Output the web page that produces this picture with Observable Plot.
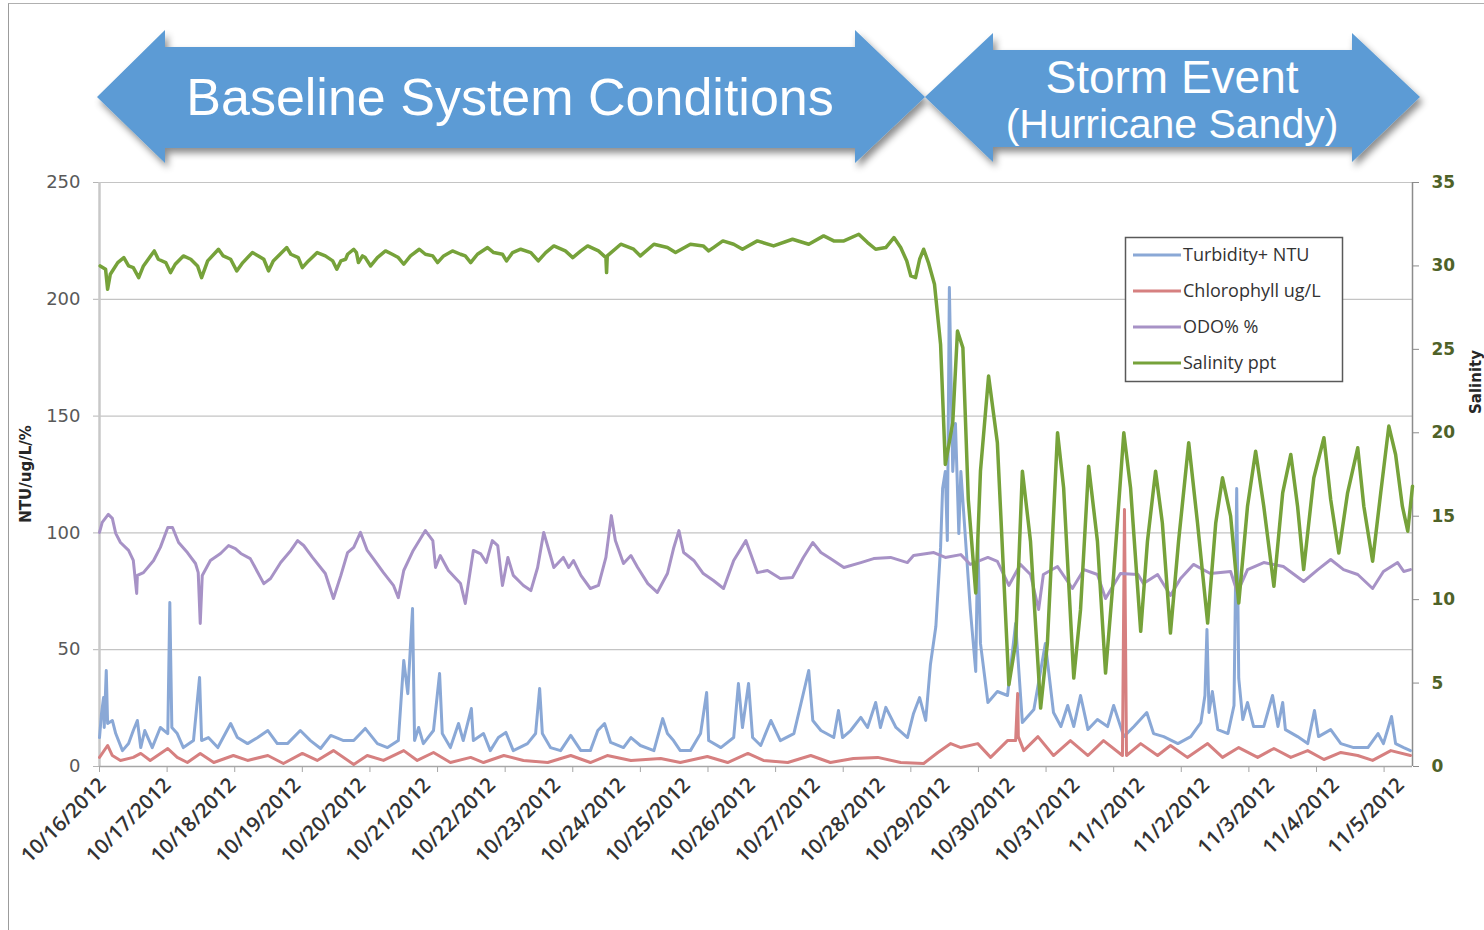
<!DOCTYPE html>
<html><head><meta charset="utf-8">
<script src="https://cdn.jsdelivr.net/npm/d3@7"></script>
<script src="https://cdn.jsdelivr.net/npm/@observablehq/plot@0.6"></script>
<style>
html,body{margin:0;padding:0;background:#fff;}
#wrap{position:relative;width:1484px;height:930px;overflow:hidden;background:#fff;}
#frame{position:absolute;left:8px;top:3px;width:1480px;height:930px;border-left:1.5px solid #9c9c9c;border-top:1.5px solid #b0b0b0;box-sizing:border-box;}
#chart{position:absolute;left:0;top:0;}
#overlay{position:absolute;left:0;top:0;}
</style></head><body>
<div id="wrap"><div id="frame"></div><div id="chart"></div>
<svg id="overlay" width="1484" height="930"></svg></div>
<script>
// x values are reading numbers (15-minute readings) from 10/16/2012 00:00
const dateLabels = ["10/16/2012","10/17/2012","10/18/2012","10/19/2012","10/20/2012","10/21/2012","10/22/2012","10/23/2012","10/24/2012","10/25/2012","10/26/2012","10/27/2012","10/28/2012","10/29/2012","10/30/2012","10/31/2012","11/1/2012","11/2/2012","11/3/2012","11/4/2012","11/5/2012"];
const readingsPerDay = 96;
const tickEvery = 100;
const lastReading = 1942;
const leftTicks = [0,50,100,150,200,250];
const rightTicks = [0,5,10,15,20,25,30,35];
const seriesNames = ["Turbidity+ NTU","Chlorophyll ug/L","ODO% %","Salinity ppt"];
const seriesColors = ["#8aa8d6","#d68080","#a792c6","#76a23a"];
const storyLabels = ["Baseline System Conditions","Storm Event","(Hurricane Sandy)"];

const turbidity = [[0,12.4],[3,22.7],[6,29.5],[7,16.7],[10,41.1],[12,18.4],[19,19.7],[24,14.1],[34,6.8],[43,9.8],[50,15.4],[56,19.7],[61,8.1],[67,15.4],[78,8.1],[90,16.7],[101,14.1],[104,70.2],[107,16.7],[115,14.1],[124,8.1],[139,11.1],[148,38.1],[151,11.1],[161,12.4],[175,8.1],[194,18.4],[204,12.4],[219,9.8],[234,12.4],[249,15.4],[263,9.8],[278,9.8],[297,15.4],[312,11.1],[327,7.7],[342,13.3],[361,11.1],[376,11.1],[393,16.3],[411,9.8],[426,8.1],[442,11.1],[450,45.4],[456,31.2],[463,67.6],[466,11.1],[472,16.7],[479,9.8],[494,15.4],[503,39.8],[507,14.1],[519,8.1],[531,18.4],[538,11.1],[550,24.8],[553,11.1],[568,14.1],[578,6.8],[590,12.4],[601,14.6],[612,6.8],[633,9.8],[645,14.1],[651,33.4],[655,14.1],[667,8.1],[682,6.8],[697,13.3],[712,6.8],[726,6.8],[737,15.4],[747,18.4],[756,10.3],[775,8.1],[786,12.4],[800,9.0],[820,6.8],[833,20.5],[840,14.1],[849,11.1],[859,6.8],[874,6.8],[889,14.1],[898,31.7],[901,11.1],[919,8.1],[938,12.4],[945,35.5],[951,16.7],[960,35.5],[966,12.4],[978,9.0],[993,19.7],[1007,11.1],[1027,14.1],[1049,41.1],[1055,19.7],[1067,15.4],[1086,12.4],[1093,24.0],[1099,12.4],[1111,15.4],[1126,21.0],[1136,16.7],[1148,27.4],[1155,16.7],[1163,25.3],[1178,16.7],[1195,12.4],[1204,22.7],[1213,29.5],[1222,19.7],[1229,43.7],[1237,59.9],[1244,93.8],[1247,119.0],[1251,126.3],[1254,96.7],[1257,205.0],[1262,126.3],[1266,146.8],[1271,99.7],[1274,126.3],[1281,96.7],[1288,67.2],[1296,40.7],[1299,96.7],[1303,52.7],[1314,27.4],[1328,32.1],[1343,30.4],[1355,61.2],[1365,18.8],[1382,24.4],[1399,52.7],[1411,23.1],[1422,17.1],[1432,26.1],[1441,17.1],[1451,30.4],[1462,15.8],[1476,20.1],[1491,17.1],[1500,26.1],[1515,12.8],[1530,17.1],[1549,23.1],[1559,14.1],[1574,12.8],[1595,9.8],[1614,12.8],[1629,18.8],[1635,30.4],[1638,58.6],[1641,23.1],[1646,32.1],[1654,15.8],[1669,14.1],[1678,26.1],[1682,119.0],[1685,37.7],[1691,20.1],[1698,27.4],[1707,17.1],[1722,17.1],[1735,30.4],[1743,17.1],[1750,27.4],[1754,15.8],[1772,12.8],[1787,9.8],[1797,24.0],[1803,12.8],[1821,15.8],[1836,9.8],[1855,8.1],[1876,8.1],[1891,14.1],[1899,9.8],[1911,21.4],[1917,9.8],[1929,8.1],[1939,6.8]];

const chlorophyll = [[0,3.9],[12,9.0],[19,4.7],[31,2.6],[50,3.9],[61,5.6],[75,2.6],[101,7.7],[115,3.9],[130,1.7],[149,5.6],[169,1.7],[198,4.7],[219,2.6],[249,4.7],[272,1.3],[300,5.6],[322,2.6],[346,6.8],[376,0.9],[396,4.7],[420,2.6],[450,6.8],[470,2.6],[494,6.0],[519,1.7],[549,3.9],[568,1.7],[598,4.7],[627,2.6],[663,1.7],[697,4.7],[726,1.7],[751,4.7],[786,2.6],[830,3.4],[859,1.7],[899,4.3],[929,1.7],[959,5.6],[982,2.6],[1018,1.7],[1052,4.7],[1081,1.7],[1115,3.4],[1151,3.9],[1185,1.7],[1219,1.3],[1240,6.0],[1259,9.8],[1274,8.1],[1299,9.8],[1318,3.9],[1343,11.1],[1355,11.1],[1358,31.2],[1359,12.8],[1367,6.8],[1388,12.8],[1411,4.7],[1436,11.1],[1462,4.7],[1485,11.1],[1513,4.7],[1516,110.0],[1519,4.7],[1540,9.8],[1565,4.7],[1584,9.0],[1609,3.9],[1639,9.8],[1661,3.9],[1685,8.1],[1713,3.9],[1737,7.7],[1762,3.9],[1787,6.8],[1811,3.0],[1836,6.0],[1861,4.7],[1883,2.6],[1910,6.8],[1939,4.7]];

const odo = [[0,100.2],[4,104.5],[13,107.9],[19,106.2],[24,99.8],[31,95.9],[43,92.5],[50,88.2],[55,74.1],[56,81.8],[65,83.0],[80,88.2],[90,93.8],[101,102.3],[108,102.3],[117,95.9],[130,91.6],[142,86.9],[146,83.0],[149,61.2],[152,81.8],[164,88.2],[179,91.2],[191,94.6],[201,93.3],[209,91.2],[223,89.0],[243,78.3],[253,80.5],[268,87.3],[283,92.5],[293,96.7],[302,94.6],[315,89.5],[334,82.6],[346,71.9],[357,81.8],[367,91.6],[376,93.8],[386,100.2],[396,92.5],[405,89.0],[420,83.0],[435,77.4],[442,72.3],[450,83.9],[464,92.5],[482,101.0],[493,96.7],[497,85.2],[504,90.3],[516,83.9],[534,78.3],[541,69.8],[553,92.5],[564,91.0],[572,87.3],[581,96.7],[589,94.6],[596,77.5],[604,89.5],[612,81.8],[627,77.5],[638,75.3],[648,85.2],[657,100.2],[672,85.2],[686,89.5],[694,85.2],[701,88.2],[712,81.8],[726,76.2],[738,77.5],[749,89.5],[757,107.4],[763,96.7],[775,86.9],[786,90.3],[796,85.2],[811,78.3],[825,74.5],[840,82.6],[849,93.3],[857,101.0],[864,91.6],[879,88.2],[893,82.6],[908,79.6],[923,76.2],[938,88.2],[956,96.7],[963,91.2],[973,83.0],[988,83.9],[1007,80.5],[1025,80.9],[1041,89.5],[1055,95.9],[1067,91.6],[1081,89.0],[1101,85.2],[1126,87.3],[1145,89.0],[1170,89.5],[1195,87.3],[1204,90.3],[1234,91.6],[1251,89.5],[1274,90.7],[1288,86.5],[1314,89.5],[1328,87.8],[1345,77.5],[1362,86.5],[1377,82.2],[1389,67.2],[1396,82.2],[1417,85.6],[1439,76.2],[1456,84.3],[1476,82.2],[1488,71.9],[1510,82.6],[1536,82.2],[1544,78.3],[1565,82.2],[1584,73.2],[1599,80.5],[1618,86.5],[1643,82.6],[1673,83.5],[1683,74.5],[1698,84.3],[1722,87.3],[1751,85.6],[1781,79.2],[1802,84.3],[1821,88.6],[1840,84.3],[1861,82.2],[1883,76.2],[1899,83.5],[1920,87.3],[1929,83.5],[1939,84.3]];

const salinity = [[1,30.0],[9,29.8],[12,28.6],[16,29.5],[27,30.2],[36,30.5],[43,30.0],[50,29.9],[58,29.3],[65,30.0],[81,30.9],[87,30.4],[98,30.2],[105,29.6],[112,30.1],[124,30.6],[135,30.4],[145,30.0],[151,29.3],[160,30.3],[176,31.0],[183,30.6],[194,30.4],[203,29.7],[212,30.2],[226,30.8],[235,30.6],[243,30.4],[250,29.7],[257,30.3],[277,31.1],[283,30.7],[294,30.5],[300,29.9],[309,30.3],[322,30.8],[334,30.6],[345,30.3],[351,29.8],[357,30.3],[364,30.4],[367,30.7],[376,31.0],[380,30.8],[383,30.2],[389,30.6],[393,30.5],[401,30.0],[411,30.5],[423,30.9],[433,30.7],[442,30.5],[450,30.1],[460,30.6],[473,31.0],[482,30.7],[493,30.6],[500,30.2],[509,30.6],[522,30.9],[534,30.7],[541,30.6],[549,30.2],[559,30.7],[574,31.1],[583,30.8],[596,30.7],[602,30.3],[611,30.8],[623,31.0],[638,30.8],[649,30.3],[660,30.8],[672,31.2],[689,30.9],[700,30.5],[712,30.9],[722,31.2],[738,30.9],[749,30.5],[750,29.6],[751,30.6],[771,31.3],[790,31.0],[800,30.6],[820,31.3],[840,31.1],[852,30.8],[874,31.3],[893,31.2],[901,30.9],[908,31.1],[922,31.5],[938,31.3],[951,31.0],[973,31.5],[997,31.2],[1025,31.6],[1049,31.3],[1071,31.8],[1086,31.5],[1101,31.5],[1123,31.9],[1136,31.4],[1148,31.0],[1163,31.1],[1175,31.7],[1185,31.1],[1194,30.3],[1200,29.4],[1207,29.3],[1213,30.4],[1219,31.0],[1226,30.2],[1235,28.9],[1244,25.3],[1251,18.1],[1262,20.6],[1269,26.1],[1277,25.1],[1285,16.0],[1296,10.4],[1303,17.7],[1315,23.4],[1328,19.4],[1345,4.9],[1355,7.4],[1365,17.7],[1377,13.5],[1392,3.5],[1402,7.4],[1417,20.0],[1426,16.7],[1441,5.3],[1451,9.4],[1463,18.0],[1476,13.5],[1488,5.6],[1500,11.5],[1515,20.0],[1525,16.7],[1540,8.1],[1550,13.5],[1562,17.7],[1572,14.6],[1584,8.0],[1596,13.5],[1611,19.4],[1624,14.6],[1639,8.6],[1651,14.6],[1661,17.3],[1673,15.0],[1685,9.8],[1698,15.6],[1710,18.9],[1722,15.6],[1737,10.8],[1750,16.4],[1762,18.7],[1772,15.6],[1781,11.8],[1796,17.3],[1811,19.7],[1821,16.0],[1833,12.8],[1846,16.4],[1861,19.1],[1870,15.6],[1883,12.3],[1895,16.4],[1907,20.4],[1917,18.7],[1927,15.6],[1935,14.1],[1942,16.8]];

// secondary (salinity) axis 0–35 shares the primary 0–250 range
const toLeft = s => s * 250 / 35;
const toRight = v => v * 35 / 250;

const labelData = dateLabels.map((t, i) => ({r: i * readingsPerDay, t}));
const tickPositions = d3.range(0, lastReading, tickEvery);

const plot = Plot.plot({
  width: 1484, height: 930,
  marginLeft: 99, marginRight: 72, marginTop: 182, marginBottom: 164,
  x: {domain: [0, lastReading], axis: null},
  y: {domain: [0, 250], axis: null},
  style: {background: "transparent", fontFamily: "DejaVu Sans", overflow: "visible"},
  marks: [
    Plot.ruleY(leftTicks.slice(1), {stroke: "#c4c4c4", strokeWidth: 1.2}),
    Plot.axisY(leftTicks, {anchor: "left", tickSize: 6, tickPadding: 13, fontSize: 18, fill: "#595959", stroke: "#b5b5b5", label: null}),
    Plot.axisY(rightTicks.map(toLeft), {anchor: "right", tickFormat: d => String(Math.round(toRight(d))), tickSize: 6, tickPadding: 13, fontSize: 17, fontWeight: "bold", fill: "#4f6228", stroke: "#8c8c8c", label: null}),
    Plot.axisX(tickPositions, {anchor: "bottom", tickSize: 6, tickFormat: () => "", stroke: "#a6a6a6", label: null}),
    Plot.text(labelData, {x: "r", y: () => 0, text: "t", rotate: -45, textAnchor: "end", dx: 3, dy: 15, fontSize: 20.5, fontFamily: "Open Sans", fontWeight: 600, fill: "#333333"}),
    Plot.ruleX([0], {stroke: "#c8c8c8", strokeWidth: 2.5}),
    Plot.ruleX([lastReading], {stroke: "#8c8c8c", strokeWidth: 1.5}),
    Plot.ruleY([0], {stroke: "#a6a6a6", strokeWidth: 1.5}),
    Plot.line(turbidity, {x: d => d[0], y: d => d[1], stroke: seriesColors[0], strokeWidth: 3, strokeLinejoin: "round"}),
    Plot.line(chlorophyll, {x: d => d[0], y: d => d[1], stroke: seriesColors[1], strokeWidth: 3, strokeLinejoin: "round"}),
    Plot.line(odo, {x: d => d[0], y: d => d[1], stroke: seriesColors[2], strokeWidth: 3, strokeLinejoin: "round"}),
    Plot.line(salinity, {x: d => d[0], y: d => toLeft(d[1]), stroke: seriesColors[3], strokeWidth: 3.5, strokeLinejoin: "round"})
  ]
});
document.getElementById("chart").appendChild(plot);

// overlay: banner arrows, axis titles, legend
const svg = d3.select("#overlay");
const defs = svg.append("defs");
const f = defs.append("filter").attr("id", "sh").attr("x", "-10%").attr("y", "-20%").attr("width", "125%").attr("height", "150%");
f.append("feDropShadow").attr("dx", 3).attr("dy", 5).attr("stdDeviation", 3.5).attr("flood-color", "#000").attr("flood-opacity", 0.45);

const arrowFill = "#5b9bd5";
svg.append("polygon").attr("filter", "url(#sh)").attr("fill", arrowFill)
  .attr("points", "97,97 165,30 165,47 855,47 855,30 925,97 855,163 855,148 165,148 165,163");
svg.append("polygon").attr("filter", "url(#sh)").attr("fill", arrowFill)
  .attr("points", "925,97 993,33 993,50 1352,50 1352,33 1420,97 1352,162 1352,147 993,147 993,162");
svg.append("text").attr("x", 510).attr("y", 115).attr("text-anchor", "middle").attr("fill", "#fff")
  .attr("font-family", "Liberation Sans").attr("font-size", 52).text(storyLabels[0]);
svg.append("text").attr("x", 1172).attr("y", 93).attr("text-anchor", "middle").attr("fill", "#fff")
  .attr("font-family", "Liberation Sans").attr("font-size", 46).text(storyLabels[1]);
svg.append("text").attr("x", 1172).attr("y", 138).attr("text-anchor", "middle").attr("fill", "#fff")
  .attr("font-family", "Liberation Sans").attr("font-size", 41).text(storyLabels[2]);

svg.append("text").attr("transform", "translate(31,474) rotate(-90)").attr("text-anchor", "middle")
  .attr("font-family", "DejaVu Sans").attr("font-weight", "bold").attr("font-size", 15).attr("fill", "#262626").text("NTU/ug/L/%");
svg.append("text").attr("transform", "translate(1481,382) rotate(-90)").attr("text-anchor", "middle")
  .attr("font-family", "DejaVu Sans").attr("font-weight", "bold").attr("font-size", 15).attr("fill", "#262626").text("Salinity");

const lg = svg.append("g");
lg.append("rect").attr("x", 1125.5).attr("y", 237.5).attr("width", 217).attr("height", 144)
  .attr("fill", "#fff").attr("stroke", "#595959").attr("stroke-width", 1.5);
seriesNames.forEach((n, i) => {
  const yy = 255 + i * 36;
  lg.append("line").attr("x1", 1133).attr("x2", 1181).attr("y1", yy).attr("y2", yy)
    .attr("stroke", seriesColors[i]).attr("stroke-width", 3);
  lg.append("text").attr("x", 1183).attr("y", yy + 6).attr("font-family", "Open Sans")
    .attr("font-size", 18).attr("fill", "#333").text(n);
});
</script>
</body></html>
